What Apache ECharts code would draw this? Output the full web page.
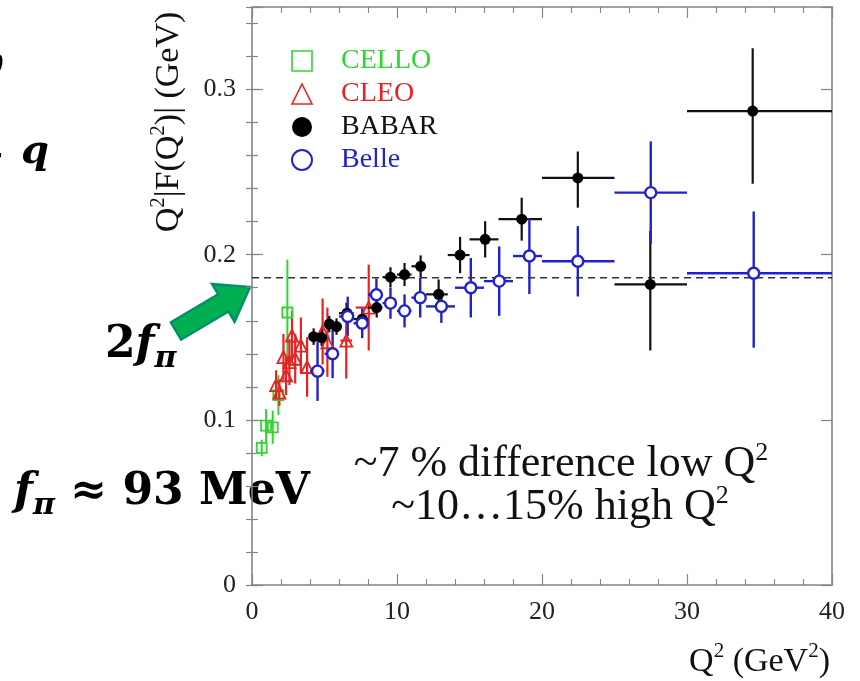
<!DOCTYPE html>
<html><head><meta charset="utf-8">
<script src="https://cdn.jsdelivr.net/npm/echarts@6/dist/echarts.min.js"></script>
<style>html,body{margin:0;padding:0;background:#fff}#c{width:860px;height:681px}</style>
</head><body><div id="c"></div>
<script>
// ---------- data ----------
const xTickLabels = [0, 10, 20, 30, 40];
const yTickLabels = [0, 0.1, 0.2, 0.3];
const twoFpi = 0.186;

const celloQ2  = [0.67, 0.97, 1.43, 1.82, 2.44];
const celloF   = [0.083, 0.0965, 0.0955, 0.115, 0.165];
const celloErr = [0.005, 0.010, 0.010, 0.012, 0.032];

const cleoQ2    = [1.66, 1.89, 2.17, 2.35, 2.58, 2.76, 2.98, 3.37, 3.80, 4.87, 5.20, 6.50, 8.05];
const cleoF     = [0.121, 0.1165, 0.138, 0.127, 0.135, 0.151, 0.137, 0.145, 0.132, 0.1535, 0.147, 0.148, 0.168];
const cleoErr   = [0.009, 0.008, 0.014, 0.012, 0.014, 0.015, 0.015, 0.017, 0.018, 0.020, 0.021, 0.023, 0.026];
const cleoQ2Err = [0, 0, 0, 0, 0, 0, 0, 0, 0, 0, 0, 0.4, 0.9];

const babarQ2     = [4.25, 4.80, 5.33, 5.83, 6.55, 7.60, 8.60, 9.55, 10.52, 11.63, 12.87, 14.35, 16.08, 18.60, 22.47, 27.47, 34.53];
const babarF      = [0.1504, 0.1498, 0.158, 0.1565, 0.1646, 0.161, 0.168, 0.1864, 0.188, 0.193, 0.176, 0.1998, 0.2093, 0.2215, 0.2465, 0.182, 0.287];
const babarErrUp  = [0.005, 0.005, 0.005, 0.005, 0.006, 0.006, 0.006, 0.006, 0.007, 0.0066, 0.009, 0.011, 0.011, 0.013, 0.016, 0.0325, 0.038];
const babarErrDn  = [0.005, 0.005, 0.005, 0.005, 0.006, 0.006, 0.006, 0.006, 0.007, 0.0066, 0.009, 0.011, 0.011, 0.013, 0.018, 0.040, 0.044];
const babarBinLo  = [4.0, 4.5, 5.0, 5.5, 6, 7, 8, 9, 10, 11, 12.0, 13.5, 15, 17, 20, 25, 30];
const babarBinHi  = [4.5, 5.0, 5.5, 6.0, 7, 8, 9, 10, 11, 12, 13.5, 15.0, 17, 20, 25, 30, 40];

const belleQ2     = [4.52, 5.56, 6.60, 7.60, 8.58, 9.55, 10.52, 11.60, 13.06, 15.09, 17.05, 19.13, 22.47, 27.50, 34.60];
const belleF      = [0.1295, 0.140, 0.1626, 0.1585, 0.1758, 0.1707, 0.166, 0.174, 0.1687, 0.180, 0.184, 0.1992, 0.196, 0.2376, 0.1888];
const belleErrUp  = [0.018, 0.0147, 0.012, 0.009, 0.0097, 0.0095, 0.010, 0.012, 0.010, 0.018, 0.021, 0.023, 0.0213, 0.031, 0.0374];
const belleErrDn  = [0.018, 0.0147, 0.012, 0.009, 0.0097, 0.0095, 0.010, 0.012, 0.010, 0.018, 0.021, 0.023, 0.0213, 0.031, 0.0451];
const belleBinLo  = [4, 5, 6, 7, 8, 9, 10, 11, 12, 14, 16, 18, 20, 25, 30];
const belleBinHi  = [5, 6, 7, 8, 9, 10, 11, 12, 14, 16, 18, 20, 25, 30, 40];

// ---------- styles ----------
const GREEN = '#2fd62f', RED = '#e42424', BLACK = '#000000', BLUE = '#2222cc';
const FRAME = '#858585';
const SERIF = 'Liberation Serif';

function errRender(color, width) {
  return function (params, api) {
    const x = api.value(0), y = api.value(1);
    const xl = api.value(2), xh = api.value(3), yl = api.value(4), yh = api.value(5);
    const children = [];
    if (xh > xl) {
      const a = api.coord([xl, y]), b = api.coord([xh, y]);
      children.push({type: 'line', shape: {x1: a[0], y1: a[1], x2: b[0], y2: b[1]}, style: {stroke: color, lineWidth: width}});
    }
    const c = api.coord([x, yl]), d = api.coord([x, yh]);
    children.push({type: 'line', shape: {x1: c[0], y1: c[1], x2: d[0], y2: d[1]}, style: {stroke: color, lineWidth: width}});
    return {type: 'group', children};
  };
}
const sym = (q, f) => q.map((x, i) => [x, f[i]]);

const celloErrData = celloQ2.map((x, i) => [x, celloF[i], x, x, celloF[i] - celloErr[i], celloF[i] + celloErr[i]]);
const cleoErrData  = cleoQ2.map((x, i) => [x, cleoF[i], x - cleoQ2Err[i], x + cleoQ2Err[i], cleoF[i] - cleoErr[i], cleoF[i] + cleoErr[i]]);
const babarErrData = babarQ2.map((x, i) => [x, babarF[i], babarBinLo[i], babarBinHi[i], babarF[i] - babarErrDn[i], babarF[i] + babarErrUp[i]]);
const belleErrData = belleQ2.map((x, i) => [x, belleF[i], belleBinLo[i], belleBinHi[i], belleF[i] - belleErrDn[i], belleF[i] + belleErrUp[i]]);

const tickCommon = {inside: true, lineStyle: {color: FRAME, width: 1.2}};
const lineCommon = {show: true, onZero: false, lineStyle: {color: FRAME, width: 1.6}};
const labelFont = {fontFamily: SERIF, fontSize: 26, color: '#222'};

const yFmt = v => { const r = Math.round(v * 10) / 10; return Math.abs(v - r) < 1e-9 ? (r === 0 ? '0' : r.toFixed(1)) : ''; };

const option = {
  animation: false,
  backgroundColor: '#fff',
  grid: {left: 252, right: 28, top: 7, bottom: 96, containLabel: false},
  xAxis: [
    {type: 'value', position: 'bottom', min: 0, max: 40, interval: 10,
     axisLine: lineCommon, axisTick: Object.assign({length: 11}, tickCommon),
     minorTick: {show: true, splitNumber: 5, length: 6, lineStyle: {color: FRAME, width: 1.1}},
     splitLine: {show: false}, minorSplitLine: {show: false},
     axisLabel: Object.assign({margin: 14, formatter: v => xTickLabels.includes(v) ? String(v) : ''}, labelFont)},
    {type: 'value', position: 'top', min: 0, max: 40, interval: 10,
     axisLine: lineCommon, axisTick: Object.assign({length: 11}, tickCommon),
     minorTick: {show: true, splitNumber: 5, length: 6, lineStyle: {color: FRAME, width: 1.1}},
     splitLine: {show: false}, axisLabel: {show: false}}
  ],
  yAxis: [
    {type: 'value', position: 'left', min: 0, max: 0.35, interval: 0.1,
     axisLine: lineCommon, axisTick: Object.assign({length: 11}, tickCommon),
     splitLine: {show: false},
     axisLabel: Object.assign({margin: 16, formatter: yFmt}, labelFont)},
    {type: 'value', position: 'left', min: 0, max: 0.35, interval: 0.02,
     axisLine: {show: false}, axisTick: Object.assign({length: 6}, tickCommon),
     splitLine: {show: false}, axisLabel: {show: false}},
    {type: 'value', position: 'right', min: 0, max: 0.35, interval: 0.1,
     axisLine: lineCommon, axisTick: Object.assign({length: 11}, tickCommon),
     splitLine: {show: false}, axisLabel: {show: false}},
    {type: 'value', position: 'right', min: 0, max: 0.35, interval: 0.02,
     axisLine: {show: false}, axisTick: Object.assign({length: 6}, tickCommon),
     splitLine: {show: false}, axisLabel: {show: false}}
  ],
  legend: {
    orient: 'vertical', left: 286, top: 42, itemWidth: 20, itemHeight: 20, itemGap: 5,
    textStyle: {fontFamily: SERIF, fontSize: 28, padding: [0, 0, 0, 24]},
    selectedMode: false,
    data: [
      {name: 'CELLO', icon: 'rect', itemStyle: {color: '#fff', borderColor: GREEN, borderWidth: 1.6, opacity: 1}, textStyle: {color: GREEN}},
      {name: 'CLEO', icon: 'triangle', itemStyle: {color: '#fff', borderColor: RED, borderWidth: 1.6, opacity: 1}, textStyle: {color: RED}},
      {name: 'BABAR', icon: 'circle', itemStyle: {color: BLACK, borderColor: BLACK, borderWidth: 0, opacity: 1}, textStyle: {color: '#111'}},
      {name: 'Belle', icon: 'circle', itemStyle: {color: '#fff', borderColor: BLUE, borderWidth: 2, opacity: 1}, textStyle: {color: BLUE}}
    ]
  },
  series: [
    {type: 'line', name: '2fpi', data: [[0, twoFpi], [40, twoFpi]], showSymbol: false, silent: true,
     lineStyle: {color: '#333', width: 1.5, type: [7, 5]}, z: 1},
    {type: 'custom', name: 'cello-err', renderItem: errRender(GREEN, 2), data: celloErrData, z: 2, silent: true, clip: true},
    {type: 'custom', name: 'cleo-err', renderItem: errRender(RED, 2.2), data: cleoErrData, z: 2, silent: true, clip: true},
    {type: 'custom', name: 'babar-err', renderItem: errRender('#111', 2.2), data: babarErrData, z: 2, silent: true, clip: true},
    {type: 'custom', name: 'belle-err', renderItem: errRender(BLUE, 2.4), data: belleErrData, z: 2, silent: true, clip: true},
    {type: 'scatter', name: 'CELLO', data: sym(celloQ2, celloF), symbol: 'rect', symbolSize: 10,
     itemStyle: {color: 'transparent', borderColor: GREEN, borderWidth: 1.8, opacity: 1}, z: 4, silent: true},
    {type: 'scatter', name: 'CLEO', data: sym(cleoQ2, cleoF), symbol: 'triangle', symbolSize: 12,
     itemStyle: {color: 'transparent', borderColor: RED, borderWidth: 1.8, opacity: 1}, z: 4, silent: true},
    {type: 'scatter', name: 'BABAR', data: sym(babarQ2, babarF), symbol: 'circle', symbolSize: 11,
     itemStyle: {color: BLACK, opacity: 1}, z: 5, silent: true},
    {type: 'scatter', name: 'Belle', data: sym(belleQ2, belleF), symbol: 'circle', symbolSize: 11,
     itemStyle: {color: '#fff', borderColor: BLUE, borderWidth: 2.4, opacity: 1}, z: 6, silent: true}
  ],
  graphic: [
    // y-axis title
    {type: 'text', x: 167, y: 122, rotation: Math.PI / 2, silent: true,
     style: {text: '{n|Q}{s|2}{n||F(Q}{s|2}{n|)| (GeV)}', align: 'center', verticalAlign: 'middle',
       rich: {n: {fontFamily: SERIF, fontSize: 34, fill: '#111', lineHeight: 38, verticalAlign: 'bottom'},
              s: {fontFamily: SERIF, fontSize: 21, fill: '#111', lineHeight: 21, verticalAlign: 'top'}}}},
    // x-axis title
    {type: 'text', x: 830, y: 660, silent: true,
     style: {text: '{n|Q}{s|2}{n| (GeV}{s|2}{n|)}', align: 'right', verticalAlign: 'middle',
       rich: {n: {fontFamily: SERIF, fontSize: 34, fill: '#111', lineHeight: 38, verticalAlign: 'bottom'},
              s: {fontFamily: SERIF, fontSize: 21, fill: '#111', lineHeight: 21, verticalAlign: 'top'}}}},
    // annotation lines
    {type: 'text', x: 561, y: 463, silent: true,
     style: {text: '{n|~7 % difference low Q}{s|2}', align: 'center', verticalAlign: 'middle',
       rich: {n: {fontFamily: SERIF, fontSize: 44, fill: '#111', lineHeight: 46, verticalAlign: 'bottom'},
              s: {fontFamily: SERIF, fontSize: 26, fill: '#111', lineHeight: 26, verticalAlign: 'top'}}}},
    {type: 'text', x: 560, y: 506, silent: true,
     style: {text: '{n|~10…15% high Q}{s|2}', align: 'center', verticalAlign: 'middle',
       rich: {n: {fontFamily: SERIF, fontSize: 44, fill: '#111', lineHeight: 46, verticalAlign: 'bottom'},
              s: {fontFamily: SERIF, fontSize: 26, fill: '#111', lineHeight: 26, verticalAlign: 'top'}}}},
    // f_pi ≈ 93 MeV
    {type: 'text', x: 14, y: 493, silent: true,
     style: {text: '{f|f}{p|π}{b| ≈ 93 MeV}', align: 'left', verticalAlign: 'middle',
       rich: {f: {fontFamily: 'DejaVu Serif', fontStyle: 'italic', fontWeight: 'bold', fontSize: 44, fill: '#000', lineHeight: 56, verticalAlign: 'middle'},
              p: {fontFamily: 'DejaVu Serif', fontStyle: 'italic', fontWeight: 'bold', fontSize: 30, fill: '#000', lineHeight: 30, verticalAlign: 'bottom'},
              b: {fontFamily: 'DejaVu Serif', fontWeight: 'bold', fontSize: 44, fill: '#000', lineHeight: 56, verticalAlign: 'middle'}}}},
    // 2 f_pi
    {type: 'text', x: 105, y: 346, silent: true,
     style: {text: '{b|2}{f|f}{p|π}', align: 'left', verticalAlign: 'middle',
       rich: {f: {fontFamily: 'DejaVu Serif', fontStyle: 'italic', fontWeight: 'bold', fontSize: 44, fill: '#000', lineHeight: 56, verticalAlign: 'middle'},
              p: {fontFamily: 'DejaVu Serif', fontStyle: 'italic', fontWeight: 'bold', fontSize: 30, fill: '#000', lineHeight: 30, verticalAlign: 'bottom'},
              b: {fontFamily: 'DejaVu Serif', fontWeight: 'bold', fontSize: 44, fill: '#000', lineHeight: 56, verticalAlign: 'middle'}}}},
    // cut-off fragments at the left edge
    {type: 'text', x: 5, y: 157, silent: true,
     style: {text: '+', align: 'right', verticalAlign: 'middle', font: 'bold 38px "DejaVu Serif"', fill: '#000'}},
    {type: 'text', x: 21, y: 153, silent: true,
     style: {text: 'q', align: 'left', verticalAlign: 'middle', font: 'italic bold 40px "DejaVu Serif"', fill: '#000'}},
    {type: 'text', x: 4, y: 68, silent: true,
     style: {text: '0', align: 'right', verticalAlign: 'middle', font: 'italic 28px "DejaVu Serif"', fill: '#000'}},
    // green arrow pointing at the 2f_pi line
    {type: 'polygon', silent: true,
     shape: {points: [[170.9, 322.4], [218.2, 294.2], [212, 283.9], [250, 287], [234.6, 321.7], [228.4, 311.4], [181.1, 339.6]]},
     style: {fill: '#00b050', stroke: '#00906a', lineWidth: 2.5, lineJoin: 'miter'}}
  ]
};

const chart = echarts.init(document.getElementById('c'));
chart.setOption(option);
</script>
</body></html>
